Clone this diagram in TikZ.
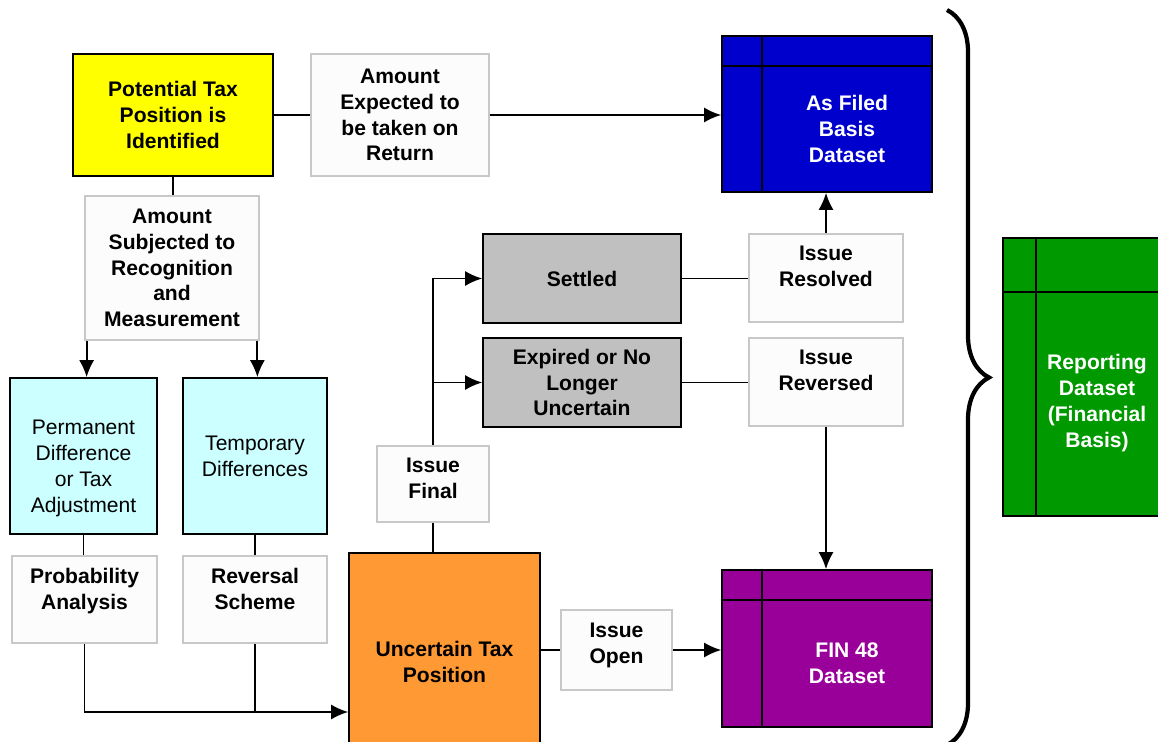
\documentclass[tikz,border=0pt]{standalone}
\usepackage{fontspec}
\setmainfont{Liberation Sans}
\usepackage{tikz}
\usetikzlibrary{arrows.meta,decorations.pathreplacing}
\definecolor{myyellow}{RGB}{255,255,0}
\definecolor{mycyan}{RGB}{204,255,255}
\definecolor{mygray}{RGB}{192,192,192}
\definecolor{myorange}{RGB}{255,153,51}
\definecolor{myblue}{RGB}{0,0,204}
\definecolor{mypurple}{RGB}{153,0,153}
\definecolor{mygreen}{RGB}{0,153,0}
\definecolor{myedge}{RGB}{200,200,200}
\definecolor{mynotefill}{RGB}{252,252,252}

\begin{document}
\begin{tikzpicture}[
  x=0.02cm, y=-0.02cm,
  line width=1pt,
  mybox/.style={
    draw,
    fill=#1,
    align=center,
    font=\fontsize{12}{14.7}\selectfont\bfseries
    },
  mynote/.style={
    draw=myedge,
    fill=mynotefill,
    align=center,
    font=\fontsize{12}{14.7}\selectfont\bfseries
    },
  mydata/.style n args={3}{
    draw,
    fill=#1,
    path picture={
      \draw[line width=1pt] ([xshift=#2]path picture bounding box.north west) -- ([xshift=#2]path picture bounding box.south west);
      \draw[line width=1pt] ([yshift=-#3]path picture bounding box.north west) -- ([yshift=-#3]path picture bounding box.north east);
      }
    },
  mytext/.style={
    text=white,
    align=center,
    font=\fontsize{12}{14.7}\selectfont\bfseries
    },
  myarrow/.style={-{Latex[length=0.34cm,width=0.3cm]}}
]
\useasboundingbox (0,0) rectangle (1158,742);

\node[mybox=myyellow, minimum width=4cm, minimum height=2.44cm] (ident) at (173,115) {Potential Tax\\Position is\\Identified};
\node[mynote, minimum width=3.56cm, minimum height=2.44cm] (expret) at (400,115) {Amount\\Expected to\\be taken on\\Return};
\node[mydata={myblue}{0.8cm}{0.6cm}, minimum width=4.2cm, minimum height=3.12cm,
  label={[mytext, xshift=0.4cm, yshift=-0.3cm]center:As Filed\\Basis\\Dataset}] (asfiled) at (827,114) {};
\node[mynote, minimum width=3.48cm, minimum height=2.88cm] (subj) at (172,268) {Amount\\Subjected to\\Recognition\\and\\Measurement};

\node[mybox=mycyan, font=\fontsize{12}{14.7}\selectfont, minimum width=2.94cm, minimum height=3.12cm] (perm) at (83.5,456) {\mbox{}\\[7.5pt]Permanent\\Difference\\or Tax\\Adjustment};
\node[mybox=mycyan, font=\fontsize{12}{14.7}\selectfont, minimum width=2.88cm, minimum height=3.12cm] (temp) at (255,456) {Temporary\\Differences};
\node[mynote, minimum width=2.9cm, minimum height=1.74cm] (prob) at (84.5,599.5) {Probability\\Analysis\\[-2.8pt]\mbox{}};
\node[mynote, minimum width=2.88cm, minimum height=1.74cm] (revs) at (255,599.5) {Reversal\\Scheme\\[-2.8pt]\mbox{}};

\node[mybox=mygray, minimum width=3.96cm, minimum height=1.78cm] (settled) at (582,278.5) {Settled};
\node[mybox=mygray, minimum width=3.96cm, minimum height=1.78cm] (expired) at (582,382.5) {Expired or No\\Longer\\Uncertain};
\node[mynote, minimum width=3.08cm, minimum height=1.76cm] (resolved) at (826,278) {Issue\\Resolved\\[-1.7pt]\mbox{}};
\node[mynote, minimum width=3.08cm, minimum height=1.76cm] (reversed) at (826,382) {Issue\\Reversed\\[-1.7pt]\mbox{}};
\node[mynote, minimum width=2.24cm, minimum height=1.52cm] (final) at (433,484) {Issue\\Final\\[-7.9pt]\mbox{}};

\node[mybox=myorange, minimum width=3.82cm, minimum height=4.36cm] (uncert) at (444.5,662) {Uncertain Tax\\Position};
\node[mynote, minimum width=2.22cm, minimum height=1.6cm] (issopen) at (616.5,650) {Issue\\Open\\[-6.8pt]\mbox{}};
\node[mydata={mypurple}{0.8cm}{0.6cm}, minimum width=4.2cm, minimum height=3.14cm,
  label={[mytext, xshift=0.4cm, yshift=-0.29cm]center:FIN 48\\Dataset}] (fin) at (827,648.5) {};
\node[mydata={mygreen}{0.66cm}{1.08cm}, minimum width=3.18cm, minimum height=5.56cm,
  label={[mytext, xshift=0.29cm, yshift=-0.52cm]center:Reporting\\Dataset\\(Financial\\Basis)}] (report) at (1082.5,377) {};

\draw (ident) -- (expret);
\draw[myarrow] (expret.east) -- (expret.east -| asfiled.west);
\draw (ident.south) -- (ident.south |- subj.north);
\draw[myarrow] ([xshift=0.05cm]subj.south west) -- ([xshift=0.05cm]subj.south west |- perm.north);
\draw[myarrow] ([xshift=-0.05cm]subj.south east) -- ([xshift=-0.05cm]subj.south east |- temp.north);
\foreach \a/\b in {perm/prob, temp/revs}
  \draw (\a.south) -- (\a.south |- \b.north);
\coordinate (join) at (255,712);
\draw (revs.south) -- (join);
\draw[myarrow] (prob.south) |- (join) -- (join -| uncert.west);

\draw (uncert.north -| final.south) -- (final.south);
\draw[myarrow] (final.north) |- (settled.west);
\draw[myarrow] (final.north |- expired.west) -- (expired.west);
\draw (settled.east) -- (settled.east -| resolved.west);
\draw (expired.east) -- (expired.east -| reversed.west);
\draw[myarrow] (resolved.north) -- (resolved.north |- asfiled.south);
\draw[myarrow] (reversed.south) -- (reversed.south |- fin.north);
\draw (issopen.west -| uncert.east) -- (issopen.west);
\draw[myarrow] (issopen.east) -- (issopen.east -| fin.west);

\draw[line width=2.4pt, decorate, decoration={brace, amplitude=0.84cm}] (947,10) -- (947,745);

\end{tikzpicture}
\end{document}
